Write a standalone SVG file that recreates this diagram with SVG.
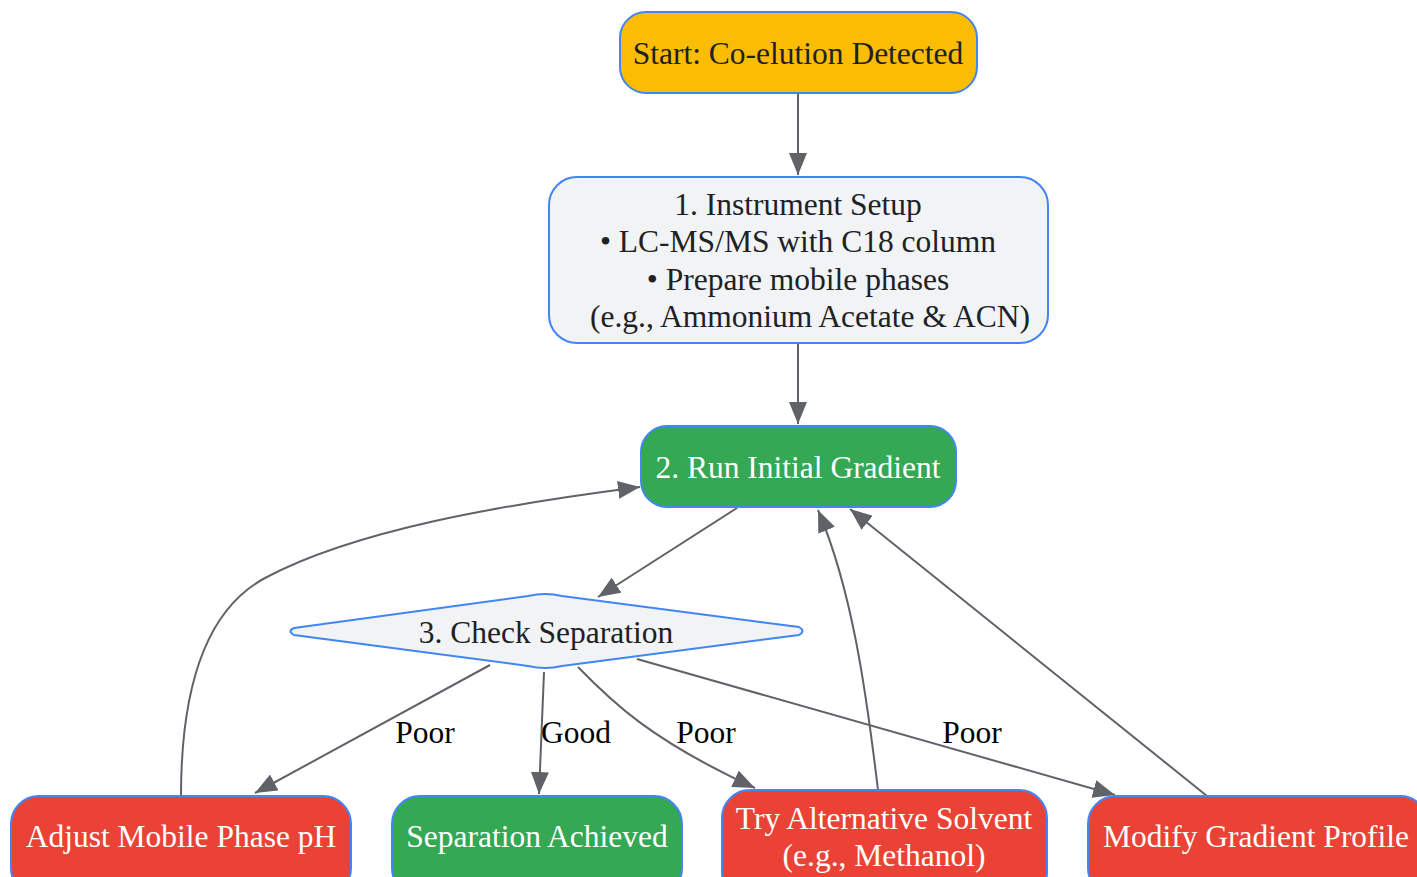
<svg xmlns="http://www.w3.org/2000/svg" width="1417" height="877" viewBox="0 0 1417 877">
<style>
.n{stroke:#4285f4;stroke-width:2}
.t{font-family:"Liberation Serif","Times New Roman",serif;font-size:31.5px;text-anchor:middle}
.d{fill:#202124}
.w{fill:#ffffff}
.e{fill:none;stroke:#5f6368;stroke-width:2;marker-end:url(#a)}
.l{font-family:"Liberation Serif","Times New Roman",serif;font-size:31.5px;text-anchor:middle;fill:#000}
</style>
<defs>
<marker id="a" markerUnits="userSpaceOnUse" markerWidth="24" markerHeight="18" refX="22" refY="9" orient="auto">
<path d="M0,0 L22,9 L0,18 Z" fill="#5f6368"/>
</marker>
</defs>
<rect width="1417" height="877" fill="#ffffff"/>
<g id="connectors">
<path class="e" d="M798,93 L798,175"/>
<path class="e" d="M798,343 L798,424"/>
<path class="e" d="M737,508 L598,597"/>
<path class="e" d="M490,665 L255,793"/>
<path class="e" d="M544,672 L539,794"/>
<path class="e" d="M578,667 C610,700 650,740 755,788"/>
<path class="e" d="M637,659 L1115,795"/>
<path class="e" d="M181,796 C181,690 205,610 265,578 C355,530 500,505 640,487"/>
<path class="e" d="M878,790 C866,690 852,590 818,510"/>
<path class="e" d="M1207,796 L850,509"/>
<text class="l" x="425" y="743">Poor</text>
<text class="l" x="576" y="743">Good</text>
<text class="l" x="706" y="743">Poor</text>
<text class="l" x="972" y="743">Poor</text>
</g>
<g id="start">
<rect class="n" x="620" y="12" width="357" height="81" rx="26" fill="#fbbc04"/>
<text class="t d" x="798" y="64">Start: Co-elution Detected</text>
</g>
<g id="setup">
<rect class="n" x="549" y="177" width="499" height="166" rx="28" fill="#f1f3f4"/>
<text class="t d" x="798" y="215">1. Instrument Setup</text>
<text class="t d" x="798" y="252">• LC-MS/MS with C18 column</text>
<text class="t d" x="798" y="290">• Prepare mobile phases</text>
<text class="t d" x="810" y="327">(e.g., Ammonium Acetate &amp; ACN)</text>
</g>
<g id="run">
<rect class="n" x="641" y="426" width="315" height="81" rx="26" fill="#34a853"/>
<text class="t w" x="798" y="478">2. Run Initial Gradient</text>
</g>
<g id="check">
<path class="n" fill="#f1f3f4" d="M294,628 L528,596 Q545,592 562,596 L799,627 Q806,631 799,635 L562,666 Q545,670 528,666 L294,635 Q287,631 294,628 Z"/>
<text class="t d" x="546" y="643">3. Check Separation</text>
</g>
<g id="adjust">
<rect class="n" x="11" y="796" width="340" height="100" rx="28" fill="#ea4335"/>
<text class="t w" x="181" y="847">Adjust Mobile Phase pH</text>
</g>
<g id="achieved">
<rect class="n" x="392" y="796" width="290" height="100" rx="28" fill="#34a853"/>
<text class="t w" x="537" y="847">Separation Achieved</text>
</g>
<g id="solvent">
<rect class="n" x="722" y="790" width="325" height="110" rx="28" fill="#ea4335"/>
<text class="t w" x="884" y="829">Try Alternative Solvent</text>
<text class="t w" x="884" y="866">(e.g., Methanol)</text>
</g>
<g id="modify">
<rect class="n" x="1088" y="796" width="340" height="100" rx="28" fill="#ea4335"/>
<text class="t w" x="1256" y="847">Modify Gradient Profile</text>
</g>
</svg>
